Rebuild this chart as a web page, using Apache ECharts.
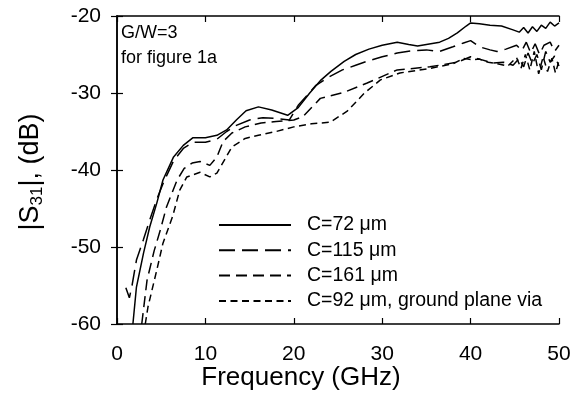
<!DOCTYPE html>
<html>
<head>
<meta charset="utf-8">
<script src="https://cdn.jsdelivr.net/npm/echarts@6/dist/echarts.min.js"></script>
<style>
  html, body { margin: 0; padding: 0; background: #fff; }
  #chart { width: 584px; height: 417px; }
</style>
</head>
<body>
<div id="chart"></div>
<script>
// frequency (GHz), |S31| (dB)
const c72 = [
  [1.8, -60], [2.2, -55.2], [3, -50.8], [3.7, -47.4], [4.5, -44.3], [5.2, -41.3], [6.4, -38.3],
  [7.5, -36.8], [8.6, -35.8], [10, -35.8], [11.3, -35.5], [12.4, -34.8], [13.5, -33.5], [14.6, -32.3],
  [16, -31.8], [17.5, -32.2], [19.3, -32.9], [20.5, -31.9], [21.8, -30], [23, -28.4], [24.2, -27.2],
  [25.7, -25.9], [27, -25], [28.5, -24.3], [30, -23.8], [31.7, -23.4], [33, -23.7], [34, -23.9],
  [35.5, -23.6], [36.5, -23.4], [37.5, -22.9], [38.5, -22.2], [39.5, -21.3], [40, -20.9], [41, -21],
  [42.2, -21.2], [43.5, -21.3], [44.8, -21.8], [45.5, -22.1], [46, -21.5], [46.5, -22.2], [47, -21.4],
  [47.5, -22], [48, -21.2], [48.5, -21.6], [49, -20.8], [49.5, -21.3], [50, -20.9]
];
const c115 = [
  [1.0, -55.3], [1.4, -56.6], [1.7, -55.0], [2.2, -51.7], [3, -49], [3.7, -46.5], [4.5, -43.8], [5.3, -41.5],
  [6.4, -38.8], [7.5, -37.2], [8.6, -36.4], [10, -36.4], [11.3, -36], [12.4, -35], [13.5, -34.2],
  [15, -33.5], [16.5, -33.2], [18, -33.3], [19.5, -33.5], [20.5, -31.6], [21.5, -30.3], [22.5, -29],
  [24, -27.9], [25.5, -27], [27, -26.4], [28.5, -25.8], [30, -25.3], [31.7, -24.8], [33.5, -24.5],
  [35, -24.4], [36.5, -24.6], [38, -24], [39.2, -23.5], [40, -23.2], [41, -24], [42.2, -24.4],
  [43, -24.6], [44, -24.3], [45.2, -23.8], [45.8, -24.5], [46.3, -23.4], [46.8, -24.8], [47.3, -23.6],
  [47.8, -25], [48.3, -23.8], [49, -23.4], [49.5, -24.6], [50, -23.8]
];
const c161 = [
  [2.8, -60], [3.4, -54.3], [4.2, -50.5], [4.9, -47.8], [5.6, -44.8], [6.8, -41.3], [7.6, -39.8],
  [8.5, -39.1], [9.4, -38.9], [10.5, -39.4], [11.3, -38.3], [12, -36.3], [13, -35.2], [14.5, -34.4],
  [16.3, -33.9], [18, -33.7], [20, -33.5], [21, -33.1], [23, -30.7], [25.7, -29.9], [28.3, -28.7],
  [31.7, -27], [35.4, -26.6], [38.5, -26], [40, -25.3], [41, -25.6], [42.5, -26.1], [43.7, -26],
  [44.8, -26.4], [45.5, -25.5], [46, -26.6], [46.5, -24.8], [47, -26.2], [47.5, -25], [48, -27],
  [48.5, -24.6], [49, -26], [49.5, -25.2], [50, -26.5]
];
const c92via = [
  [3.2, -60], [3.5, -57.8], [4.5, -53], [5.2, -49.5], [6.3, -46], [7.1, -42.6], [7.9, -40.9],
  [9.4, -40.3], [10.5, -40.9], [11.3, -40.4], [12, -39], [13, -37], [14.5, -35.9], [16, -35.5],
  [18, -35], [20, -34.4], [22, -34], [24.1, -33.8], [26, -32.4], [28, -30], [29.8, -28.3], [32, -27.4],
  [35.4, -26.8], [38, -26.2], [39.2, -25.5], [40.2, -25.7], [41, -25.6], [42, -26], [43, -26.2],
  [44.2, -26.5], [45.2, -25.4], [45.7, -26.8], [46.2, -25], [46.7, -27], [47.2, -24.6], [47.7, -27.5],
  [48.2, -25.3], [48.7, -27.2], [49.2, -25.5], [49.6, -27.4], [50, -25.8]
];
const seriesNames = ['C=72 μm', 'C=115 μm', 'C=161 μm', 'C=92 μm, ground plane via'];
const xTicks = { min: 0, max: 50, interval: 10 };
const yTicks = { min: -60, max: -20, interval: 10 };

const FONT = 'Liberation Sans, Arial, sans-serif';
const chart = echarts.init(document.getElementById('chart'));

const makeLine = (name, data, dash) => ({
  name: name,
  type: 'line',
  data: data,
  symbol: 'none',
  silent: true,
  color: '#000',
  lineStyle: { color: '#000', width: 1.5, type: dash }
});

const baseAxis = {
  axisLine: { show: true, lineStyle: { color: '#000', width: 1.5 } },
  axisTick: { show: true, inside: true, length: 6, lineStyle: { color: '#000', width: 1.2 } },
  splitLine: { show: false }
};

const option = {
  backgroundColor: '#fff',
  animation: false,
  grid: { left: 117, right: 25, top: 16, bottom: 93 },
  legend: {
    orient: 'vertical',
    left: 218,
    top: 215,
    padding: 0,
    itemWidth: 72,
    itemHeight: 14,
    itemGap: 5.3,
    selectedMode: false,
    itemStyle: { opacity: 0 },
    textStyle: { fontFamily: FONT, fontSize: 19.5, lineHeight: 20, color: '#000', padding: [0, 0, 0, 11] },
    data: seriesNames
  },
  xAxis: [
    Object.assign({}, baseAxis, {
      type: 'value', position: 'bottom', min: xTicks.min, max: xTicks.max, interval: xTicks.interval,
      axisLabel: { fontFamily: FONT, fontSize: 21, color: '#000', margin: 20 }
    }),
    Object.assign({}, baseAxis, {
      type: 'value', position: 'top', min: xTicks.min, max: xTicks.max, interval: xTicks.interval,
      axisLabel: { show: false }
    })
  ],
  yAxis: [
    Object.assign({}, baseAxis, {
      type: 'value', position: 'left', min: yTicks.min, max: yTicks.max, interval: yTicks.interval,
      axisLabel: { fontFamily: FONT, fontSize: 21, color: '#000', margin: 16 }
    }),
    Object.assign({}, baseAxis, {
      type: 'value', position: 'right', min: yTicks.min, max: yTicks.max, interval: yTicks.interval,
      axisLabel: { show: false }
    })
  ],
  series: [
    makeLine(seriesNames[0], c72, 'solid'),
    makeLine(seriesNames[1], c115, [16, 7]),
    makeLine(seriesNames[2], c161, [11, 6]),
    makeLine(seriesNames[3], c92via, [7, 4.5])
  ],
  graphic: [
    {
      type: 'text', x: 301, y: 378,
      style: { text: 'Frequency (GHz)', font: '26px ' + FONT, fill: '#000', textAlign: 'center', textVerticalAlign: 'middle' }
    },
    {
      type: 'text', x: 31, y: 172, rotation: Math.PI / 2,
      style: {
        text: '{m||S}{s|31}{m||, (dB)}',
        fill: '#000', textAlign: 'center', textVerticalAlign: 'middle',
        rich: {
          m: { fontFamily: FONT, fontSize: 27, lineHeight: 30, verticalAlign: 'middle' },
          s: { fontFamily: FONT, fontSize: 17, lineHeight: 30, verticalAlign: 'bottom', padding: [10, 0, 0, 0] }
        }
      }
    },
    {
      type: 'text', x: 121, y: 33,
      style: { text: 'G/W=3', font: '18px ' + FONT, fill: '#000', textVerticalAlign: 'middle' }
    },
    {
      type: 'text', x: 121, y: 58,
      style: { text: 'for figure 1a', font: '18px ' + FONT, fill: '#000', textVerticalAlign: 'middle' }
    }
  ]
};

chart.setOption(option);
</script>
</body>
</html>
